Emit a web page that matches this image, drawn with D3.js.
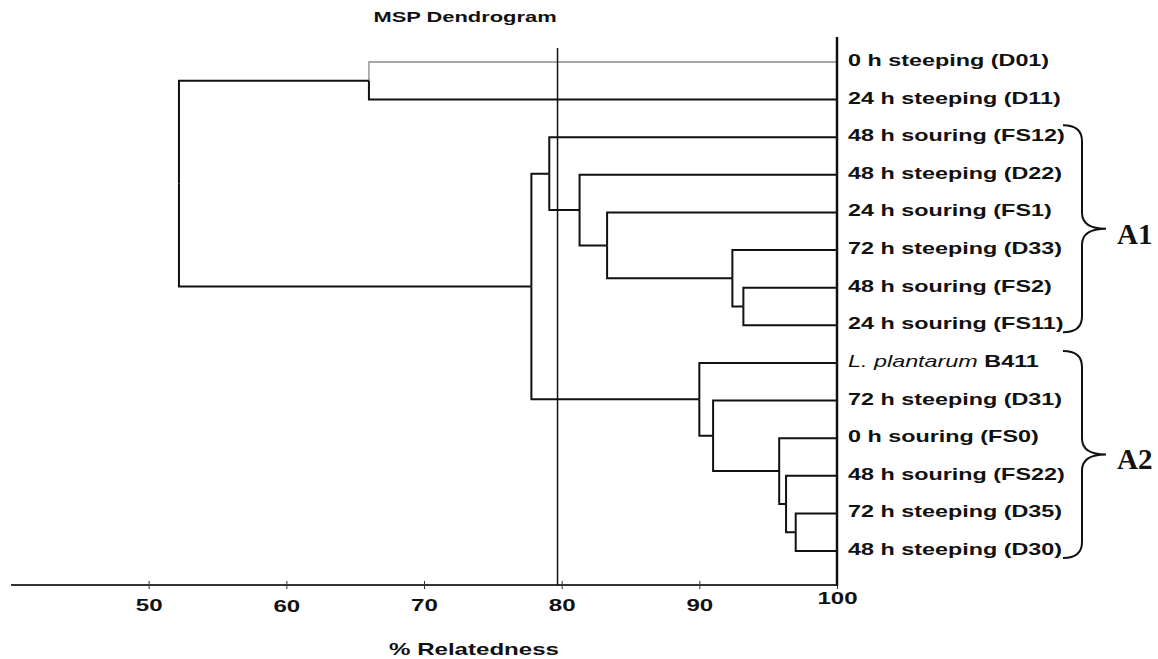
<!DOCTYPE html>
<html>
<head>
<meta charset="utf-8">
<script src="https://cdn.jsdelivr.net/npm/d3@7"></script>
<style>
  body { margin: 0; background: #fff; }
  svg { display: block; }
  text { font-family: "Liberation Sans", Arial, sans-serif; fill: #111; }
</style>
</head>
<body>
<div id="chart"></div>
<script>
// leaves, top to bottom
const leafLabels = [
  "0 h steeping (D01)", "24 h steeping (D11)", "48 h souring (FS12)", "48 h steeping (D22)",
  "24 h souring (FS1)", "72 h steeping (D33)", "48 h souring (FS2)", "24 h souring (FS11)",
  "L. plantarum B411", "72 h steeping (D31)", "0 h souring (FS0)", "48 h souring (FS22)",
  "72 h steeping (D35)", "48 h steeping (D30)"
];
// merges: [child a, child b, % relatedness]; ids >= 14 are earlier merges
const mergeA = [12, 11, 10, 9, 8, 6, 5, 4, 3, 2, 23, 0, 25];
const mergeB = [13, 14, 15, 16, 17, 7, 19, 20, 21, 22, 18, 1, 24];
const mergeLevel = [97.0, 96.3, 95.8, 91.0, 90.0, 93.2, 92.4, 83.3, 81.3, 79.1, 77.8, 66.0, 52.2];
const xTicks = [50, 60, 70, 80, 90, 100];
const cutoff = 79.7;
// brace groups
const groupNames = ["A1", "A2"];
const groupFirst = [2, 8];
const groupLast = [7, 13];

const w = 1158, h = 659;
const sx = 1.46; // the original text is stretched horizontally

const svg = d3.select("#chart").append("svg")
  .attr("width", w).attr("height", h)
  .style("background-color", "white");

const xScale = d3.scaleLinear().domain([40, 100]).range([11, 837]);
const yScale = d3.scalePoint().domain(d3.range(leafLabels.length)).range([62, 551]);

// node positions
const nodes = leafLabels.map((d, i) => ({ x: xScale(100), y: yScale(i) }));
mergeLevel.forEach((lv, k) => {
  const a = nodes[mergeA[k]], b = nodes[mergeB[k]];
  nodes.push({ x: xScale(lv), y: (a.y + b.y) / 2 });
});

// links
const links = [];
mergeLevel.forEach((lv, k) => {
  const p = nodes[leafLabels.length + k];
  [mergeA[k], mergeB[k]].forEach(c => links.push({ p: p, c: nodes[c], id: c }));
});

svg.append("g").selectAll("path")
  .data(links)
  .enter()
  .append("path")
  .attr("d", d => `M${d.p.x},${d.p.y}V${d.c.y}H${d.c.x}`)
  .attr("fill", "none")
  .attr("stroke", d => d.id === 0 ? "#8a8a8a" : "#111")
  .attr("stroke-width", d => d.id === 0 ? 1.3 : 2);

// x axis
const xAxis = d3.axisBottom(xScale).tickValues(xTicks).tickSize(0).tickFormat(d3.format("d"));
const axisG = svg.append("g")
  .attr("transform", "translate(0,585)")
  .call(xAxis);
axisG.select(".domain").remove();
axisG.append("line")
  .attr("x1", xScale(40)).attr("x2", xScale(100))
  .attr("stroke", "#333").attr("stroke-width", 2);
axisG.selectAll(".tick line")
  .attr("y1", -4).attr("y2", 4)
  .attr("stroke", "#333").attr("stroke-width", 1);
axisG.selectAll(".tick text")
  .attr("y", d => d === 100 ? 19 : (d === 60 ? 27 : 26))
  .attr("dy", 0)
  .attr("transform", `scale(${sx},1)`)
  .style("font-family", '"Liberation Sans", Arial, sans-serif')
  .style("font-size", "16.5px")
  .style("font-weight", "bold")
  .attr("fill", "#111");

// right vertical line at 100 and cutoff line
svg.append("line")
  .attr("x1", xScale(100)).attr("x2", xScale(100))
  .attr("y1", 37).attr("y2", 586)
  .attr("stroke", "#111").attr("stroke-width", 2.5);
svg.append("line")
  .attr("x1", xScale(cutoff)).attr("x2", xScale(cutoff))
  .attr("y1", 48).attr("y2", 585)
  .attr("stroke", "#111").attr("stroke-width", 1.5);

// leaf labels
const labels = svg.append("g").selectAll("text")
  .data(leafLabels)
  .enter()
  .append("text")
  .attr("transform", (d, i) => `translate(848,${yScale(i) + 4}) scale(${sx},1)`)
  .style("font-size", "16px")
  .style("font-weight", "bold");
labels.each(function(d) {
  const t = d3.select(this);
  if (d.startsWith("L. plantarum")) {
    t.append("tspan").style("font-style", "italic").style("font-weight", "normal").text("L. plantarum");
    t.append("tspan").text(d.replace("L. plantarum", ""));
  } else {
    t.text(d);
  }
});

// braces
groupNames.forEach((g, i) => {
  const y0 = yScale(groupFirst[i]) - 12, y1 = yScale(groupLast[i]) + 7;
  const ym = (y0 + y1) / 2;
  const x0 = 1063, x1 = 1082, x2 = 1106;
  svg.append("path")
    .attr("d", `M${x0},${y0}Q${x1},${y0} ${x1},${y0 + 16}V${ym - 16}Q${x1},${ym} ${x2},${ym}` +
               `Q${x1},${ym} ${x1},${ym + 16}V${y1 - 16}Q${x1},${y1} ${x0},${y1}`)
    .attr("fill", "none")
    .attr("stroke", "#111")
    .attr("stroke-width", 2);
  svg.append("text")
    .attr("x", 1117)
    .attr("y", ym + 15)
    .style("font-family", '"Liberation Serif", "Times New Roman", serif')
    .style("font-size", "29px")
    .style("font-weight", "bold")
    .text(g);
});

// title
svg.append("text")
  .attr("transform", `translate(465,22) scale(${sx},1)`)
  .style("text-anchor", "middle")
  .style("font-size", "15px")
  .style("font-weight", "bold")
  .text("MSP Dendrogram");

// axis title
svg.append("text")
  .attr("transform", `translate(474,655) scale(${sx},1)`)
  .style("text-anchor", "middle")
  .style("font-size", "16.5px")
  .style("font-weight", "bold")
  .text("% Relatedness");
</script>
</body>
</html>
